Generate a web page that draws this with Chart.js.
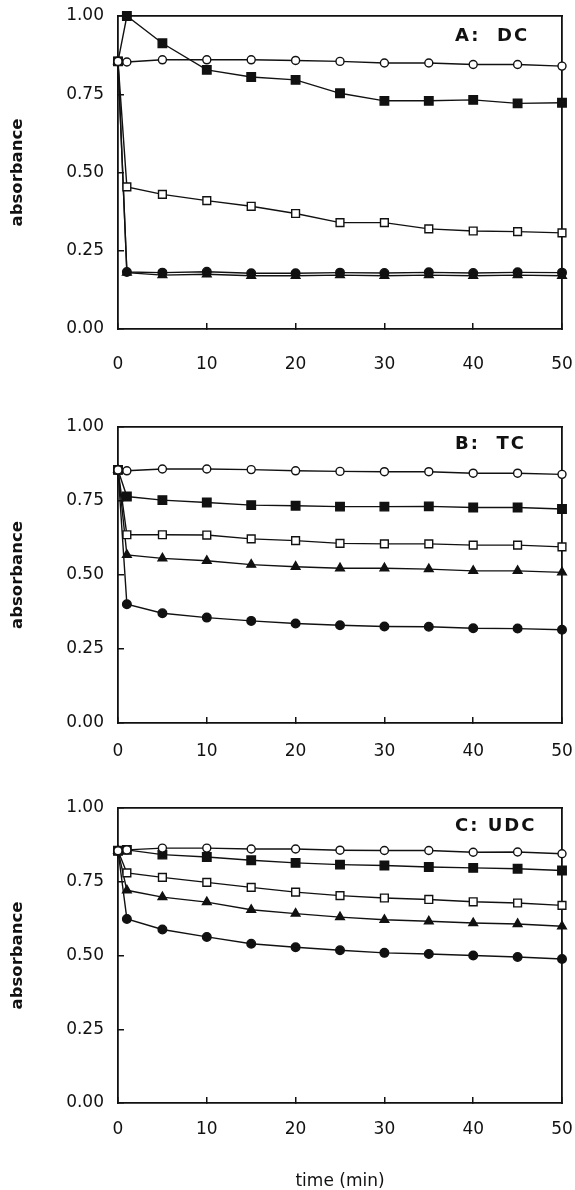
<!DOCTYPE html>
<html>
<head>
<meta charset="utf-8">
<script src="https://cdn.jsdelivr.net/npm/chart.js@4.4.1/dist/chart.umd.min.js"></script>
<style>
  body { margin: 0; background: #fff; }
  #wrap { position: relative; width: 575px; height: 1190px; overflow: hidden; }
  canvas { position: absolute; left: 0; }
  .tag { position: absolute; left: 455px; font: bold 18px "DejaVu Sans"; letter-spacing: 2px;
         white-space: pre; line-height: 18px; color: #111; }
</style>
</head>
<body>
<div id="wrap">
  <canvas id="chartA" width="575" height="385" style="top:0px"></canvas>
  <canvas id="chartB" width="575" height="385" style="top:385px"></canvas>
  <canvas id="chartC" width="575" height="420" style="top:770px"></canvas>
  <div class="tag" style="top:26px">A:  DC</div>
  <div class="tag" style="top:434px">B:  TC</div>
  <div class="tag" style="top:816px">C: UDC</div>
</div>
<script>
// sampling times (min)
const times = [0, 1, 5, 10, 15, 20, 25, 30, 35, 40, 45, 50];
const yTicks = [0, 0.25, 0.5, 0.75, 1];

// panel A: DC
const openCircleA   = [0.855, 0.853, 0.860, 0.860, 0.860, 0.858, 0.855, 0.850, 0.850, 0.845, 0.845, 0.840];
const filledSquareA = [0.855, 1.000, 0.913, 0.828, 0.805, 0.796, 0.753, 0.729, 0.729, 0.732, 0.721, 0.723];
const openSquareA   = [0.855, 0.454, 0.430, 0.410, 0.392, 0.369, 0.340, 0.340, 0.320, 0.313, 0.311, 0.307];
const triangleA     = [0.855, 0.180, 0.172, 0.175, 0.170, 0.170, 0.172, 0.170, 0.172, 0.170, 0.172, 0.170];
const filledCircleA = [0.855, 0.182, 0.180, 0.183, 0.178, 0.178, 0.180, 0.179, 0.181, 0.179, 0.181, 0.180];

// panel B: TC
const openCircleB   = [0.855, 0.852, 0.858, 0.858, 0.856, 0.852, 0.850, 0.849, 0.849, 0.844, 0.844, 0.840];
const filledSquareB = [0.855, 0.765, 0.753, 0.745, 0.736, 0.734, 0.731, 0.731, 0.732, 0.728, 0.728, 0.723];
const openSquareB   = [0.855, 0.636, 0.636, 0.635, 0.622, 0.616, 0.607, 0.605, 0.605, 0.601, 0.601, 0.595];
const triangleB     = [0.855, 0.568, 0.556, 0.548, 0.535, 0.528, 0.523, 0.523, 0.520, 0.514, 0.514, 0.509];
const filledCircleB = [0.855, 0.401, 0.371, 0.356, 0.345, 0.336, 0.330, 0.326, 0.325, 0.320, 0.319, 0.315];

// panel C: UDC
const openCircleC   = [0.855, 0.858, 0.864, 0.864, 0.861, 0.861, 0.857, 0.856, 0.856, 0.850, 0.851, 0.845];
const filledSquareC = [0.855, 0.858, 0.842, 0.834, 0.823, 0.814, 0.808, 0.805, 0.800, 0.797, 0.794, 0.788];
const openSquareC   = [0.855, 0.780, 0.765, 0.748, 0.731, 0.715, 0.703, 0.695, 0.690, 0.682, 0.678, 0.670];
const triangleC     = [0.855, 0.721, 0.698, 0.681, 0.655, 0.642, 0.630, 0.621, 0.616, 0.610, 0.607, 0.599];
const filledCircleC = [0.855, 0.624, 0.588, 0.563, 0.540, 0.528, 0.518, 0.509, 0.505, 0.500, 0.495, 0.488];

const ink = '#111';
const tickFont = { family: 'DejaVu Sans', size: 17, lineHeight: 1.2 };

// marker look per series: open circle, filled square, open square, triangle, filled circle
const markers = [
    { pointStyle: 'circle',   pointRadius: 4,   pointBackgroundColor: '#fff' },
    { pointStyle: 'rect',     pointRadius: 6,   pointBackgroundColor: ink },
    { pointStyle: 'rect',     pointRadius: 5.5, pointBackgroundColor: '#fff' },
    { pointStyle: 'triangle', pointRadius: 5,   pointBackgroundColor: ink },
    { pointStyle: 'circle',   pointRadius: 4.3, pointBackgroundColor: ink }
];

function panel(id, series, cfg) {
    const datasets = series.map((vals, i) => ({
        data: times.map((t, k) => ({ x: t, y: vals[k] })),
        borderColor: ink,
        borderWidth: 1.4,
        pointBorderColor: ink,
        pointBorderWidth: 1.4,
        tension: 0,
        clip: false,
        ...markers[i]
    }));

    return new Chart(document.getElementById(id), {
        type: 'line',
        data: { datasets: datasets },
        options: {
            responsive: false,
            animation: false,
            events: [],
            layout: { padding: { top: cfg.top, right: 13, left: 0, bottom: 0 } },
            plugins: { legend: { display: false }, tooltip: { enabled: false } },
            scales: {
                x: {
                    type: 'linear', position: 'bottom', min: 0, max: 50,
                    ticks: { stepSize: 10, padding: cfg.xPad, maxRotation: 0, font: tickFont, color: ink },
                    grid: { drawOnChartArea: false, tickLength: -6, color: ink, lineWidth: 1.5 },
                    border: { color: ink, width: 1.8 },
                    title: {
                        display: !!cfg.xTitle, text: 'time (min)', color: ink,
                        font: { family: 'DejaVu Sans', size: 17, lineHeight: 1 },
                        padding: { top: 0, bottom: 0 }
                    },
                    // tick padding would otherwise widen the side gaps
                    afterFit: s => { s.height = cfg.xHeight; s.paddingLeft = 0; s.paddingRight = 0; }
                },
                y: {
                    type: 'linear', position: 'left', min: 0, max: 1,
                    afterBuildTicks: s => { s.ticks = yTicks.map(v => ({ value: v })); },
                    ticks: { padding: 20, font: tickFont, color: ink, callback: v => v.toFixed(2) },
                    grid: { drawOnChartArea: false, tickLength: -6, color: ink, lineWidth: 1.5 },
                    border: { color: ink, width: 1.8 },
                    title: {
                        display: true, text: 'absorbance', color: ink,
                        font: { family: 'DejaVu Sans', size: 16.5, weight: 'bold', lineHeight: 1.2 },
                        padding: { top: 8, bottom: 0 }
                    },
                    afterFit: s => { s.width = 118; s.paddingTop = 0; s.paddingBottom = 0; }
                },
                x2: {
                    type: 'linear', position: 'top', min: 0, max: 50,
                    ticks: { display: false }, grid: { display: false, drawTicks: false },
                    border: { color: ink, width: 1.8 },
                    afterFit: s => { s.height = 0; s.paddingLeft = 0; s.paddingRight = 0; }
                },
                y2: {
                    type: 'linear', position: 'right', min: 0, max: 1,
                    ticks: { display: false }, grid: { display: false, drawTicks: false },
                    border: { color: ink, width: 1.8 },
                    afterFit: s => { s.width = 0; s.paddingTop = 0; s.paddingBottom = 0; }
                }
            }
        }
    });
}

panel('chartA', [openCircleA, filledSquareA, openSquareA, triangleA, filledCircleA],
      { top: 16, xHeight: 56, xPad: 31.8 });
panel('chartB', [openCircleB, filledSquareB, openSquareB, triangleB, filledCircleB],
      { top: 42, xHeight: 47, xPad: 24 });
panel('chartC', [openCircleC, filledSquareC, openSquareC, triangleC, filledCircleC],
      { top: 38, xHeight: 87, xPad: 22.8, xTitle: true });
</script>
</body>
</html>
